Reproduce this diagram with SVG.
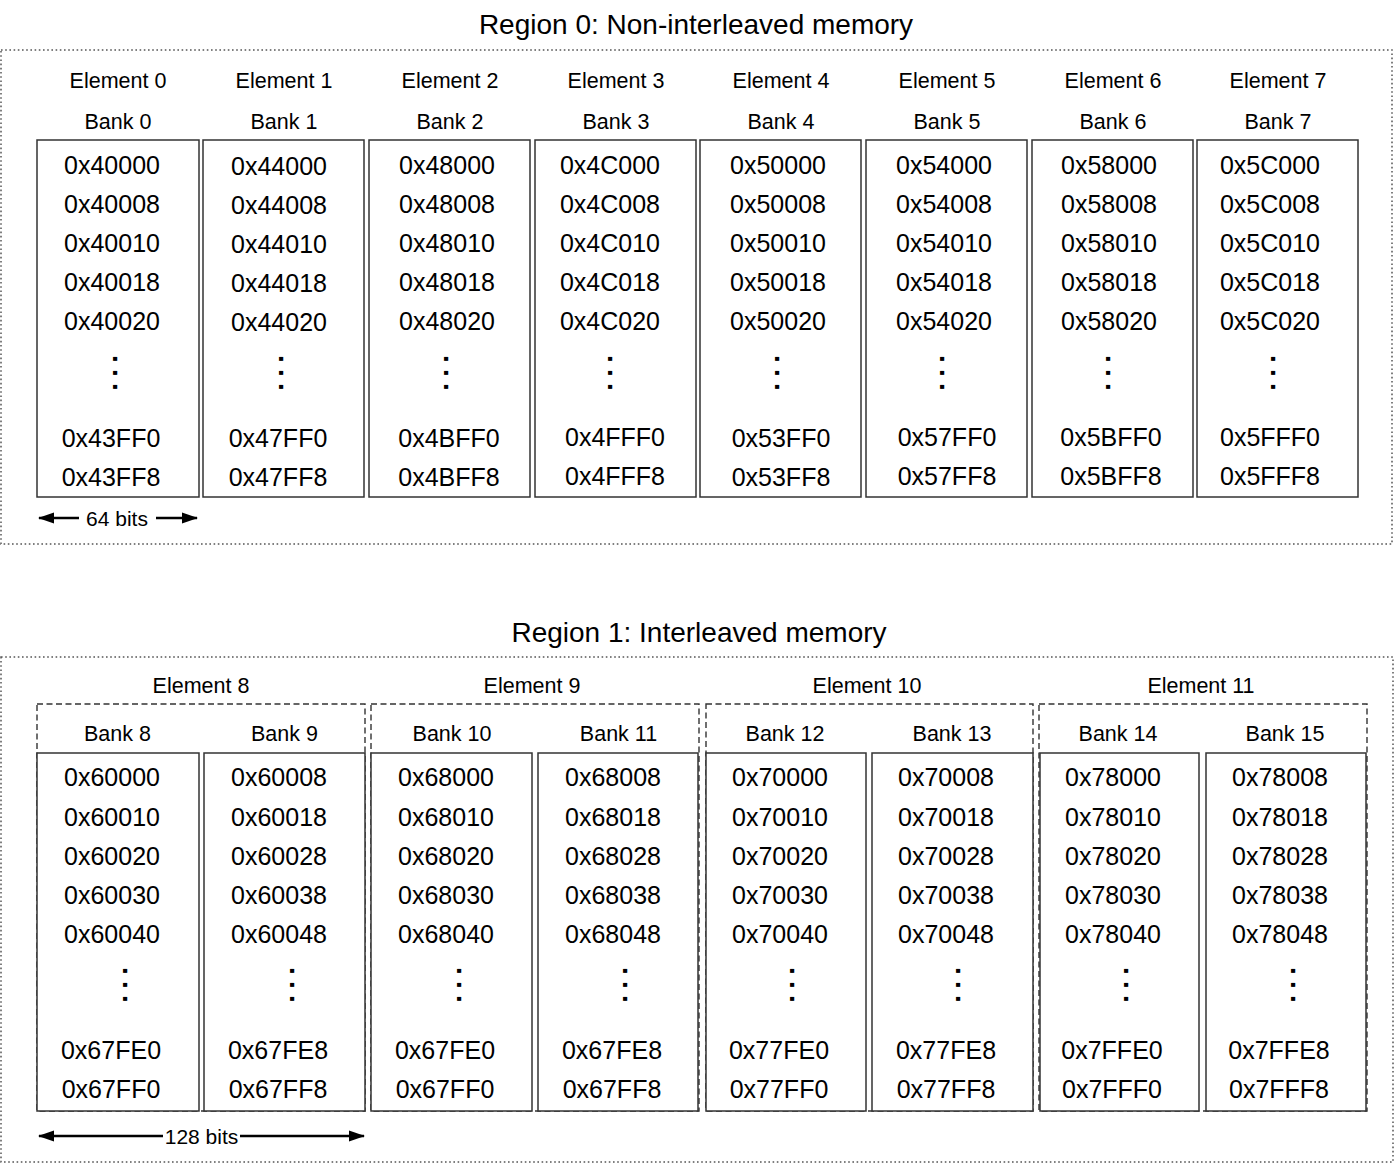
<svg xmlns="http://www.w3.org/2000/svg" width="1398" height="1163" viewBox="0 0 1398 1163">
<style>
text{font-family:"Liberation Sans",Arial,Helvetica,sans-serif;fill:#000}
.title{font-size:28px;text-anchor:middle}
.lbl{font-size:21.5px;text-anchor:middle}
.addr{font-size:25px;text-anchor:middle}
.dots{font-size:28px;font-weight:bold;letter-spacing:6.2px}
.bank{fill:#fff;stroke:#333;stroke-width:1.5}
.region{fill:none;stroke:#555;stroke-width:1.5;stroke-dasharray:1.6 2.6}
.elem{fill:none;stroke:#333;stroke-width:1.4;stroke-dasharray:6 3.5}
.arr{stroke:#000;stroke-width:2.4;fill:none}
</style>
<defs>
<marker id="ah" markerWidth="16" markerHeight="12" refX="15" refY="6" orient="auto-start-reverse" markerUnits="userSpaceOnUse">
<path d="M0,0.5 L16,6 L0,11.5 z" fill="#000"/>
</marker>
</defs>

<!-- Region 0 -->
<g id="region0">
<text class="title" x="696" y="34">Region 0: Non-interleaved memory</text>
<rect class="region" x="1" y="50" width="1391" height="494"/>
</g>

<g id="bank0">
<text class="lbl" x="118" y="88">Element 0</text>
<text class="lbl" x="118" y="129">Bank 0</text>
<rect class="bank" x="37" y="140" width="162" height="357"/>
<text class="addr" x="112" y="174">0x40000</text>
<text class="addr" x="112" y="213">0x40008</text>
<text class="addr" x="112" y="252">0x40010</text>
<text class="addr" x="112" y="291">0x40018</text>
<text class="addr" x="112" y="330">0x40020</text>
<text class="dots" transform="translate(115,373) rotate(90)" x="-17.9" y="1.6">...</text>
<text class="addr" x="111" y="447">0x43FF0</text>
<text class="addr" x="111" y="486">0x43FF8</text>
</g>
<g id="bank1">
<text class="lbl" x="284" y="88">Element 1</text>
<text class="lbl" x="284" y="129">Bank 1</text>
<rect class="bank" x="203" y="140" width="161" height="357"/>
<text class="addr" x="279" y="175">0x44000</text>
<text class="addr" x="279" y="214">0x44008</text>
<text class="addr" x="279" y="253">0x44010</text>
<text class="addr" x="279" y="292">0x44018</text>
<text class="addr" x="279" y="331">0x44020</text>
<text class="dots" transform="translate(281,373) rotate(90)" x="-17.9" y="1.6">...</text>
<text class="addr" x="278" y="447">0x47FF0</text>
<text class="addr" x="278" y="486">0x47FF8</text>
</g>
<g id="bank2">
<text class="lbl" x="450" y="88">Element 2</text>
<text class="lbl" x="450" y="129">Bank 2</text>
<rect class="bank" x="369" y="140" width="161" height="357"/>
<text class="addr" x="447" y="174">0x48000</text>
<text class="addr" x="447" y="213">0x48008</text>
<text class="addr" x="447" y="252">0x48010</text>
<text class="addr" x="447" y="291">0x48018</text>
<text class="addr" x="447" y="330">0x48020</text>
<text class="dots" transform="translate(446,373) rotate(90)" x="-17.9" y="1.6">...</text>
<text class="addr" x="449" y="447">0x4BFF0</text>
<text class="addr" x="449" y="486">0x4BFF8</text>
</g>
<g id="bank3">
<text class="lbl" x="616" y="88">Element 3</text>
<text class="lbl" x="616" y="129">Bank 3</text>
<rect class="bank" x="535" y="140" width="161" height="357"/>
<text class="addr" x="610" y="174">0x4C000</text>
<text class="addr" x="610" y="213">0x4C008</text>
<text class="addr" x="610" y="252">0x4C010</text>
<text class="addr" x="610" y="291">0x4C018</text>
<text class="addr" x="610" y="330">0x4C020</text>
<text class="dots" transform="translate(610,373) rotate(90)" x="-17.9" y="1.6">...</text>
<text class="addr" x="615" y="446">0x4FFF0</text>
<text class="addr" x="615" y="485">0x4FFF8</text>
</g>
<g id="bank4">
<text class="lbl" x="781" y="88">Element 4</text>
<text class="lbl" x="781" y="129">Bank 4</text>
<rect class="bank" x="700" y="140" width="161" height="357"/>
<text class="addr" x="778" y="174">0x50000</text>
<text class="addr" x="778" y="213">0x50008</text>
<text class="addr" x="778" y="252">0x50010</text>
<text class="addr" x="778" y="291">0x50018</text>
<text class="addr" x="778" y="330">0x50020</text>
<text class="dots" transform="translate(777,373) rotate(90)" x="-17.9" y="1.6">...</text>
<text class="addr" x="781" y="447">0x53FF0</text>
<text class="addr" x="781" y="486">0x53FF8</text>
</g>
<g id="bank5">
<text class="lbl" x="947" y="88">Element 5</text>
<text class="lbl" x="947" y="129">Bank 5</text>
<rect class="bank" x="866" y="140" width="161" height="357"/>
<text class="addr" x="944" y="174">0x54000</text>
<text class="addr" x="944" y="213">0x54008</text>
<text class="addr" x="944" y="252">0x54010</text>
<text class="addr" x="944" y="291">0x54018</text>
<text class="addr" x="944" y="330">0x54020</text>
<text class="dots" transform="translate(942,373) rotate(90)" x="-17.9" y="1.6">...</text>
<text class="addr" x="947" y="446">0x57FF0</text>
<text class="addr" x="947" y="485">0x57FF8</text>
</g>
<g id="bank6">
<text class="lbl" x="1113" y="88">Element 6</text>
<text class="lbl" x="1113" y="129">Bank 6</text>
<rect class="bank" x="1032" y="140" width="161" height="357"/>
<text class="addr" x="1109" y="174">0x58000</text>
<text class="addr" x="1109" y="213">0x58008</text>
<text class="addr" x="1109" y="252">0x58010</text>
<text class="addr" x="1109" y="291">0x58018</text>
<text class="addr" x="1109" y="330">0x58020</text>
<text class="dots" transform="translate(1108,373) rotate(90)" x="-17.9" y="1.6">...</text>
<text class="addr" x="1111" y="446">0x5BFF0</text>
<text class="addr" x="1111" y="485">0x5BFF8</text>
</g>
<g id="bank7">
<text class="lbl" x="1278" y="88">Element 7</text>
<text class="lbl" x="1278" y="129">Bank 7</text>
<rect class="bank" x="1197" y="140" width="161" height="357"/>
<text class="addr" x="1270" y="174">0x5C000</text>
<text class="addr" x="1270" y="213">0x5C008</text>
<text class="addr" x="1270" y="252">0x5C010</text>
<text class="addr" x="1270" y="291">0x5C018</text>
<text class="addr" x="1270" y="330">0x5C020</text>
<text class="dots" transform="translate(1273,373) rotate(90)" x="-17.9" y="1.6">...</text>
<text class="addr" x="1270" y="446">0x5FFF0</text>
<text class="addr" x="1270" y="485">0x5FFF8</text>
</g>

<!-- Region 1 -->
<g id="region1">
<text class="title" x="699" y="642">Region 1: Interleaved memory</text>
<rect class="region" x="1" y="657" width="1392" height="505"/>
</g>

<g id="element8">
<text class="lbl" x="201" y="693">Element 8</text>
<rect class="elem" x="37" y="704" width="328" height="407"/>
</g>
<g id="element9">
<text class="lbl" x="532" y="693">Element 9</text>
<rect class="elem" x="371" y="704" width="328" height="407"/>
</g>
<g id="element10">
<text class="lbl" x="867" y="693">Element 10</text>
<rect class="elem" x="706" y="704" width="327" height="407"/>
</g>
<g id="element11">
<text class="lbl" x="1201" y="693">Element 11</text>
<rect class="elem" x="1039" y="704" width="328" height="407"/>
</g>

<g id="bank8">
<text class="lbl" x="117.5" y="741">Bank 8</text>
<rect class="bank" x="37" y="753" width="162" height="358"/>
<text class="addr" x="112" y="786">0x60000</text>
<text class="addr" x="112" y="826">0x60010</text>
<text class="addr" x="112" y="865">0x60020</text>
<text class="addr" x="112" y="904">0x60030</text>
<text class="addr" x="112" y="943">0x60040</text>
<text class="dots" transform="translate(125,985) rotate(90)" x="-17.9" y="1.6">...</text>
<text class="addr" x="111" y="1059">0x67FE0</text>
<text class="addr" x="111" y="1098">0x67FF0</text>
</g>
<g id="bank9">
<text class="lbl" x="284.5" y="741">Bank 9</text>
<rect class="bank" x="204" y="753" width="161" height="358"/>
<text class="addr" x="279" y="786">0x60008</text>
<text class="addr" x="279" y="826">0x60018</text>
<text class="addr" x="279" y="865">0x60028</text>
<text class="addr" x="279" y="904">0x60038</text>
<text class="addr" x="279" y="943">0x60048</text>
<text class="dots" transform="translate(292,985) rotate(90)" x="-17.9" y="1.6">...</text>
<text class="addr" x="278" y="1059">0x67FE8</text>
<text class="addr" x="278" y="1098">0x67FF8</text>
</g>
<g id="bank10">
<text class="lbl" x="452" y="741">Bank 10</text>
<rect class="bank" x="371" y="753" width="161" height="358"/>
<text class="addr" x="446" y="786">0x68000</text>
<text class="addr" x="446" y="826">0x68010</text>
<text class="addr" x="446" y="865">0x68020</text>
<text class="addr" x="446" y="904">0x68030</text>
<text class="addr" x="446" y="943">0x68040</text>
<text class="dots" transform="translate(459,985) rotate(90)" x="-17.9" y="1.6">...</text>
<text class="addr" x="445" y="1059">0x67FE0</text>
<text class="addr" x="445" y="1098">0x67FF0</text>
</g>
<g id="bank11">
<text class="lbl" x="618.5" y="741">Bank 11</text>
<rect class="bank" x="538" y="753" width="160" height="358"/>
<text class="addr" x="613" y="786">0x68008</text>
<text class="addr" x="613" y="826">0x68018</text>
<text class="addr" x="613" y="865">0x68028</text>
<text class="addr" x="613" y="904">0x68038</text>
<text class="addr" x="613" y="943">0x68048</text>
<text class="dots" transform="translate(625,985) rotate(90)" x="-17.9" y="1.6">...</text>
<text class="addr" x="612" y="1059">0x67FE8</text>
<text class="addr" x="612" y="1098">0x67FF8</text>
</g>
<g id="bank12">
<text class="lbl" x="785" y="741">Bank 12</text>
<rect class="bank" x="706" y="753" width="160" height="358"/>
<text class="addr" x="780" y="786">0x70000</text>
<text class="addr" x="780" y="826">0x70010</text>
<text class="addr" x="780" y="865">0x70020</text>
<text class="addr" x="780" y="904">0x70030</text>
<text class="addr" x="780" y="943">0x70040</text>
<text class="dots" transform="translate(792,985) rotate(90)" x="-17.9" y="1.6">...</text>
<text class="addr" x="779" y="1059">0x77FE0</text>
<text class="addr" x="779" y="1098">0x77FF0</text>
</g>
<g id="bank13">
<text class="lbl" x="952" y="741">Bank 13</text>
<rect class="bank" x="872" y="753" width="161" height="358"/>
<text class="addr" x="946" y="786">0x70008</text>
<text class="addr" x="946" y="826">0x70018</text>
<text class="addr" x="946" y="865">0x70028</text>
<text class="addr" x="946" y="904">0x70038</text>
<text class="addr" x="946" y="943">0x70048</text>
<text class="dots" transform="translate(958,985) rotate(90)" x="-17.9" y="1.6">...</text>
<text class="addr" x="946" y="1059">0x77FE8</text>
<text class="addr" x="946" y="1098">0x77FF8</text>
</g>
<g id="bank14">
<text class="lbl" x="1118" y="741">Bank 14</text>
<rect class="bank" x="1040" y="753" width="159" height="358"/>
<text class="addr" x="1113" y="786">0x78000</text>
<text class="addr" x="1113" y="826">0x78010</text>
<text class="addr" x="1113" y="865">0x78020</text>
<text class="addr" x="1113" y="904">0x78030</text>
<text class="addr" x="1113" y="943">0x78040</text>
<text class="dots" transform="translate(1126,985) rotate(90)" x="-17.9" y="1.6">...</text>
<text class="addr" x="1112" y="1059">0x7FFE0</text>
<text class="addr" x="1112" y="1098">0x7FFF0</text>
</g>
<g id="bank15">
<text class="lbl" x="1285" y="741">Bank 15</text>
<rect class="bank" x="1206" y="753" width="160" height="358"/>
<text class="addr" x="1280" y="786">0x78008</text>
<text class="addr" x="1280" y="826">0x78018</text>
<text class="addr" x="1280" y="865">0x78028</text>
<text class="addr" x="1280" y="904">0x78038</text>
<text class="addr" x="1280" y="943">0x78048</text>
<text class="dots" transform="translate(1293,985) rotate(90)" x="-17.9" y="1.6">...</text>
<text class="addr" x="1279" y="1059">0x7FFE8</text>
<text class="addr" x="1279" y="1098">0x7FFF8</text>
</g>

<!-- width indicators -->
<g id="connectors">
<line class="arr" x1="79" y1="518" x2="39" y2="518" marker-end="url(#ah)"/>
<line class="arr" x1="156" y1="518" x2="197" y2="518" marker-end="url(#ah)"/>
<line class="arr" x1="163" y1="1136" x2="39" y2="1136" marker-end="url(#ah)"/>
<line class="arr" x1="240" y1="1136" x2="364" y2="1136" marker-end="url(#ah)"/>
</g>
<g id="width-labels">
<text class="lbl" x="117" y="525.5" style="font-size:21px">64 bits</text>
<text class="lbl" x="201.5" y="1143.5" style="font-size:21px">128 bits</text>
</g>
</svg>
